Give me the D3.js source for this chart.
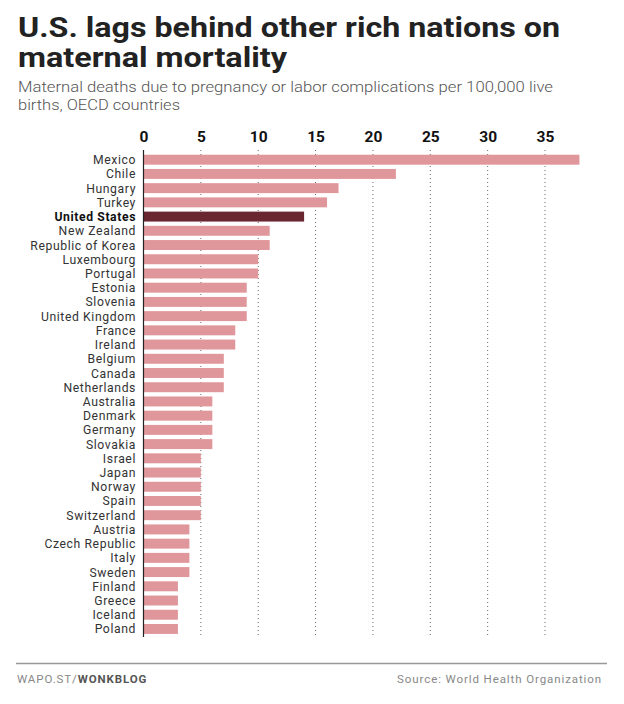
<!DOCTYPE html>
<html><head><meta charset="utf-8">
<script src="https://cdn.jsdelivr.net/npm/d3@7"></script>
<style>body{margin:0;background:#fff;}</style>
</head><body>
<script>
const countries = ["Mexico","Chile","Hungary","Turkey","United States","New Zealand","Republic of Korea","Luxembourg","Portugal","Estonia","Slovenia","United Kingdom","France","Ireland","Belgium","Canada","Netherlands","Australia","Denmark","Germany","Slovakia","Israel","Japan","Norway","Spain","Switzerland","Austria","Czech Republic","Italy","Sweden","Finland","Greece","Iceland","Poland"];
const deaths = [38,22,17,16,14,11,11,10,10,9,9,9,8,8,7,7,7,6,6,6,6,5,5,5,5,5,4,4,4,4,3,3,3,3];
const ticks = [0,5,10,15,20,25,30,35];
const highlight = "United States";

const W = 624, H = 704;
const FONT = "Roboto, 'Liberation Sans', sans-serif";
const svg = d3.select("body").append("svg").attr("width", W).attr("height", H)
  .style("font-family", FONT);

svg.append("text").attr("x",18).attr("y",37).attr("font-size",27.5).attr("font-weight",700)
  .attr("fill","#222").attr("textLength",542).attr("lengthAdjust","spacingAndGlyphs")
  .text("U.S. lags behind other rich nations on");
svg.append("text").attr("x",18).attr("y",67).attr("font-size",27.5).attr("font-weight",700)
  .attr("fill","#222").attr("textLength",269).attr("lengthAdjust","spacingAndGlyphs")
  .text("maternal mortality");
svg.append("text").attr("x",18).attr("y",92).attr("font-size",15.5).attr("font-weight",300)
  .attr("fill","#555").attr("textLength",535).attr("lengthAdjust","spacingAndGlyphs")
  .text("Maternal deaths due to pregnancy or labor complications per 100,000 live");
svg.append("text").attr("x",18).attr("y",110).attr("font-size",15.5).attr("font-weight",300)
  .attr("fill","#555").attr("textLength",162).attr("lengthAdjust","spacingAndGlyphs")
  .text("births, OECD countries");

const x0 = 143.5;
const x = d3.scaleLinear().domain([0,35]).range([x0, 545]);
const n = countries.length;
const step = 14.22;
const top0 = 159.7 - step/2;
const y = d3.scaleBand().domain(countries).range([top0, top0 + step*n]).paddingInner(0.3).paddingOuter(0.15);

const g = svg.append("g");
// gridlines
g.selectAll("line.grid").data(ticks.filter(t=>t>0)).join("line")
  .attr("x1",d=>x(d)).attr("x2",d=>x(d)).attr("y1",150).attr("y2",637)
  .attr("stroke","#666").attr("stroke-width",1).attr("stroke-dasharray","1,3");

// top axis
const axis = d3.axisTop(x).tickValues(ticks).tickSize(0).tickPadding(0);
const ax = g.append("g").attr("transform","translate(0,142)").call(axis);
ax.select(".domain").remove();
ax.selectAll("text").attr("font-size",15.5).attr("font-weight",700).attr("fill","#111")
  .attr("font-family",FONT).attr("dy",0);

// bars
g.selectAll("rect.bar").data(countries).join("rect")
  .attr("x",x(0)).attr("y",d=>y(d)).attr("height",y.bandwidth())
  .attr("width",(d,i)=>x(deaths[i])-x(0))
  .attr("fill",d=>d===highlight?"#6a2730":"#e0979b");

// labels
g.selectAll("text.lab").data(countries).join("text")
  .attr("x",136).attr("y",d=>y(d)+y.bandwidth()/2).attr("dy","0.37em")
  .attr("text-anchor","end").attr("font-size",12.2).attr("letter-spacing","0.6")
  .attr("font-weight",d=>d===highlight?700:400)
  .attr("fill",d=>d===highlight?"#111":"#333").text(d=>d);

// axis line
g.append("line").attr("x1",x0).attr("x2",x0).attr("y1",150).attr("y2",637)
  .attr("stroke","#222").attr("stroke-width",1.2);

// footer
svg.append("line").attr("x1",16).attr("x2",607).attr("y1",663.5).attr("y2",663.5)
  .attr("stroke","#999").attr("stroke-width",1.5);
const ft = svg.append("text").attr("x",17).attr("y",683).attr("font-size",11.5).attr("fill","#888")
  .attr("letter-spacing","0.9");
ft.append("tspan").text("WAPO.ST/");
ft.append("tspan").attr("font-weight",700).attr("fill","#555").text("WONKBLOG");
svg.append("text").attr("x",602).attr("y",683).attr("text-anchor","end").attr("font-size",11.5)
  .attr("fill","#888").attr("letter-spacing","0.9").text("Source: World Health Organization");
</script>
</body></html>
